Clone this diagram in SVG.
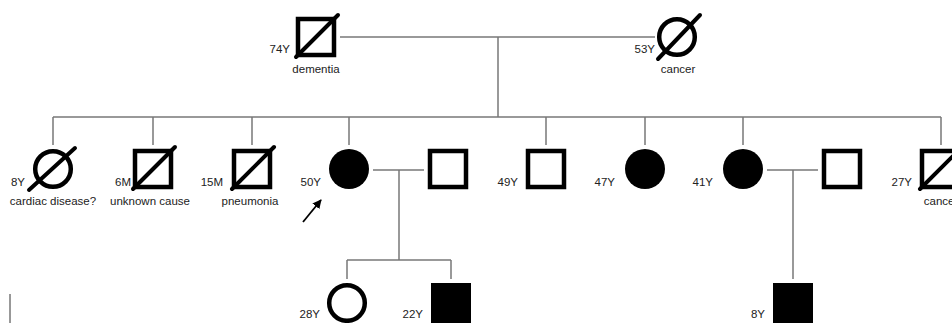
<svg xmlns="http://www.w3.org/2000/svg" width="952" height="323" viewBox="0 0 952 323">
<style>
.bg{fill:#ffffff}
.con{stroke:#777777;stroke-width:1.5;fill:none}
.sq{fill:#ffffff;stroke:#000000;stroke-width:4.5}
.ci{fill:#ffffff;stroke:#000000;stroke-width:4.5}
.af{fill:#000000;stroke:none}
.dec{stroke:#000000;stroke-width:4;stroke-linecap:round}
text{font-family:"Liberation Sans",Arial,sans-serif;font-size:11.5px;fill:#222222}
.age{text-anchor:end}
.note{text-anchor:middle}
</style>
<defs>
<marker id="ah" viewBox="0 0 10 10" refX="9" refY="5" markerWidth="5" markerHeight="5" orient="auto">
<path d="M0,0 L10,5 L0,10 z" fill="#000000"/>
</marker>
</defs>
<rect class="bg" x="0" y="0" width="952" height="323"/>

<g id="connectors">
<line class="con" x1="340" y1="37" x2="655" y2="37"/>
<line class="con" x1="498" y1="37" x2="498" y2="117"/>
<line class="con" x1="53" y1="117" x2="941" y2="117"/>
<line class="con" x1="53" y1="117" x2="53" y2="145"/>
<line class="con" x1="153" y1="117" x2="153" y2="145"/>
<line class="con" x1="252" y1="117" x2="252" y2="145"/>
<line class="con" x1="349" y1="117" x2="349" y2="145"/>
<line class="con" x1="546" y1="117" x2="546" y2="145"/>
<line class="con" x1="645" y1="117" x2="645" y2="145"/>
<line class="con" x1="743" y1="117" x2="743" y2="145"/>
<line class="con" x1="941" y1="117" x2="941" y2="145"/>
<line class="con" x1="373" y1="170" x2="424" y2="170"/>
<line class="con" x1="399" y1="170" x2="399" y2="260"/>
<line class="con" x1="347" y1="260" x2="451" y2="260"/>
<line class="con" x1="347" y1="260" x2="347" y2="279"/>
<line class="con" x1="451" y1="260" x2="451" y2="279"/>
<line class="con" x1="767" y1="170" x2="818" y2="170"/>
<line class="con" x1="793" y1="170" x2="793" y2="279"/>
</g>

<g id="I-1">
<rect class="sq" x="298" y="19" width="36" height="36"/>
<line class="dec" x1="296" y1="57" x2="338" y2="15"/>
<text class="age" x="290" y="53">74Y</text>
<text class="note" x="316" y="73">dementia</text>
</g>
<g id="I-2">
<circle class="ci" cx="677" cy="37" r="17.8"/>
<line class="dec" x1="658" y1="59" x2="700" y2="15"/>
<text class="age" x="655" y="53">53Y</text>
<text class="note" x="678" y="73">cancer</text>
</g>

<g id="II-1">
<circle class="ci" cx="53" cy="169" r="17.8"/>
<line class="dec" x1="29" y1="190" x2="75" y2="148"/>
<text class="age" x="25" y="186">8Y</text>
<text class="note" x="53" y="205">cardiac disease?</text>
</g>
<g id="II-2">
<rect class="sq" x="135" y="151" width="36" height="36"/>
<line class="dec" x1="133" y1="189" x2="175" y2="147"/>
<text class="age" x="131" y="186">6M</text>
<text class="note" x="150" y="205">unknown cause</text>
</g>
<g id="II-3">
<rect class="sq" x="234" y="151" width="36" height="36"/>
<line class="dec" x1="232" y1="189" x2="274" y2="147"/>
<text class="age" x="223" y="186">15M</text>
<text class="note" x="250" y="205">pneumonia</text>
</g>
<g id="II-4">
<circle class="af" cx="349" cy="169" r="20"/>
<text class="age" x="321" y="186">50Y</text>
</g>
<g id="proband-arrow">
<line x1="303" y1="222" x2="321" y2="200" stroke="#000000" stroke-width="1.8" marker-end="url(#ah)"/>
</g>
<g id="II-4-spouse">
<rect class="sq" x="430" y="151" width="36" height="36"/>
</g>
<g id="II-5">
<rect class="sq" x="528" y="151" width="36" height="36"/>
<text class="age" x="518" y="186">49Y</text>
</g>
<g id="II-6">
<circle class="af" cx="645" cy="169" r="20"/>
<text class="age" x="615" y="186">47Y</text>
</g>
<g id="II-7">
<circle class="af" cx="743" cy="169" r="20"/>
<text class="age" x="713" y="186">41Y</text>
</g>
<g id="II-7-spouse">
<rect class="sq" x="824" y="151" width="36" height="36"/>
</g>
<g id="II-8">
<rect class="sq" x="922" y="151" width="36" height="36"/>
<line class="dec" x1="920" y1="189" x2="962" y2="147"/>
<text class="age" x="912" y="186">27Y</text>
<text class="note" x="941" y="205">cancer</text>
</g>

<g id="III-1">
<circle class="ci" cx="347" cy="303" r="17.8"/>
<text class="age" x="320" y="318">28Y</text>
</g>
<g id="III-2">
<rect class="af" x="431" y="283" width="40" height="40"/>
<text class="age" x="423" y="318">22Y</text>
</g>
<g id="III-3">
<rect class="af" x="773" y="283" width="40" height="40"/>
<text class="age" x="765" y="318">8Y</text>
</g>

<g id="edge-mark">
<line x1="10" y1="294" x2="10" y2="323" stroke="#333333" stroke-width="1"/>
</g>
</svg>
